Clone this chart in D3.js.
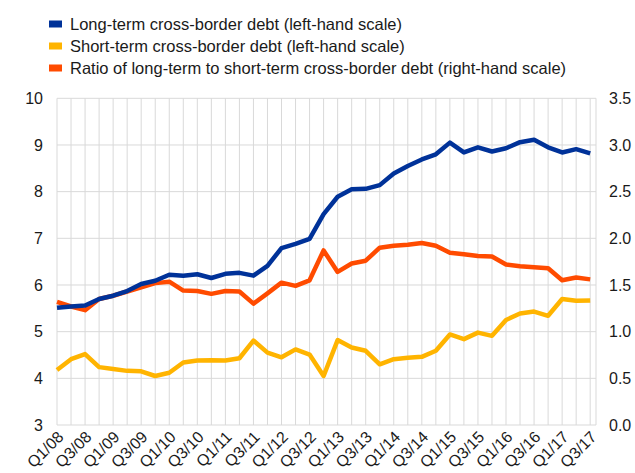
<!DOCTYPE html>
<html>
<head>
<meta charset="utf-8">
<script src="https://cdn.jsdelivr.net/npm/d3@7"></script>
<style>
  body { margin: 0; background: #fff; }
  svg { display: block; font-family: "Liberation Sans", Arial, sans-serif; }
</style>
</head>
<body>
<svg id="chart" width="635" height="473"></svg>
<script>
// quarters Q1/08 .. Q3/17
var quarters = ["Q1/08","Q2/08","Q3/08","Q4/08","Q1/09","Q2/09","Q3/09","Q4/09",
  "Q1/10","Q2/10","Q3/10","Q4/10","Q1/11","Q2/11","Q3/11","Q4/11",
  "Q1/12","Q2/12","Q3/12","Q4/12","Q1/13","Q2/13","Q3/13","Q4/13",
  "Q1/14","Q2/14","Q3/14","Q4/14","Q1/15","Q2/15","Q3/15","Q4/15",
  "Q1/16","Q2/16","Q3/16","Q4/16","Q1/17","Q2/17","Q3/17"];

var longTerm = [5.51,5.54,5.56,5.70,5.77,5.87,6.02,6.09,6.22,6.20,6.23,6.15,6.24,6.26,
  6.20,6.41,6.79,6.88,6.99,7.52,7.89,8.05,8.06,8.14,8.39,8.55,8.69,8.80,
  9.05,8.84,8.95,8.86,8.93,9.06,9.11,8.95,8.84,8.91,8.82];

var shortTerm = [4.18,4.41,4.52,4.24,4.20,4.16,4.15,4.05,4.12,4.34,4.38,4.39,4.38,4.43,
  4.81,4.55,4.45,4.62,4.51,4.05,4.82,4.66,4.59,4.30,4.41,4.44,4.46,4.59,
  4.94,4.84,4.98,4.91,5.25,5.39,5.43,5.34,5.70,5.66,5.67];

var ratio = [1.32,1.27,1.23,1.35,1.385,1.43,1.475,1.52,1.535,1.44,1.435,1.405,1.435,1.43,
  1.30,1.41,1.525,1.49,1.55,1.87,1.64,1.73,1.76,1.90,1.92,1.93,1.95,1.92,
  1.845,1.83,1.81,1.805,1.72,1.70,1.69,1.68,1.55,1.58,1.56];

var leftTicks = [3,4,5,6,7,8,9,10];
var rightTicks = [0,0.5,1,1.5,2,2.5,3,3.5];

var legendLabels = ["Long-term cross-border debt (left-hand scale)",
  "Short-term cross-border debt (left-hand scale)",
  "Ratio of long-term to short-term cross-border debt (right-hand scale)"];
var colors = ["#003299", "#ffb400", "#ff4b00"];

var plot = {left: 57, right: 596, top: 98.3, bottom: 425};
var fontSize = 16;

var svg = d3.select("#chart");

var x = d3.scalePoint().domain(quarters).range([plot.left, 590.2]);
var yL = d3.scaleLinear().domain([3, 10]).range([plot.bottom, plot.top]);
var yR = d3.scaleLinear().domain([0, 3.5]).range([plot.bottom, plot.top]);

// grid
var grid = svg.append("g").attr("stroke", "#d9d9d9").attr("stroke-width", 1);
grid.selectAll("line.h").data(leftTicks).enter().append("line")
  .attr("x1", plot.left).attr("x2", plot.right)
  .attr("y1", function(d) { return yL(d); }).attr("y2", function(d) { return yL(d); });
grid.selectAll("line.v").data(quarters).enter().append("line")
  .attr("x1", function(d) { return x(d); }).attr("x2", function(d) { return x(d); })
  .attr("y1", plot.top).attr("y2", plot.bottom);
grid.append("line").attr("x1", plot.right).attr("x2", plot.right)
  .attr("y1", plot.top).attr("y2", plot.bottom);

// axes
var leftAxis = svg.append("g")
  .attr("transform", "translate(43,0)")
  .call(d3.axisLeft(yL).tickValues(leftTicks).tickSize(0).tickPadding(0)
    .tickFormat(d3.format("d")));
var rightAxis = svg.append("g")
  .attr("transform", "translate(609,0)")
  .call(d3.axisRight(yR).tickValues(rightTicks).tickSize(0).tickPadding(0)
    .tickFormat(d3.format(".1f")));
var xAxis = svg.append("g")
  .attr("transform", "translate(0," + plot.bottom + ")")
  .call(d3.axisBottom(x).tickValues(quarters.filter(function(d, i) { return i % 2 === 0; }))
    .tickSize(0).tickPadding(0));
xAxis.selectAll("text")
  .attr("transform", "translate(3,9) rotate(-45)")
  .attr("dy", "0.35em")
  .style("text-anchor", "end");

[leftAxis, rightAxis, xAxis].forEach(function(a) {
  a.select(".domain").remove();
  a.selectAll("text").attr("font-size", fontSize).attr("fill", "#1a1a1a")
    .attr("font-family", "'Liberation Sans', Arial, sans-serif");
});

// lines
var lineL = d3.line().x(function(d, i) { return x(quarters[i]); }).y(function(d) { return yL(d); });
var lineR = d3.line().x(function(d, i) { return x(quarters[i]); }).y(function(d) { return yR(d); });

svg.append("path").datum(shortTerm).attr("fill", "none").attr("stroke", colors[1])
  .attr("stroke-width", 4.5).attr("stroke-linejoin", "round").attr("d", lineL);
svg.append("path").datum(ratio).attr("fill", "none").attr("stroke", colors[2])
  .attr("stroke-width", 4.5).attr("stroke-linejoin", "round").attr("d", lineR);
svg.append("path").datum(longTerm).attr("fill", "none").attr("stroke", colors[0])
  .attr("stroke-width", 4.5).attr("stroke-linejoin", "round").attr("d", lineL);

// legend
var legend = svg.append("g");
legendLabels.forEach(function(t, i) {
  var yy = 24 + i * 22;
  legend.append("rect").attr("x", 49).attr("y", yy - 3.5).attr("width", 13).attr("height", 7)
    .attr("fill", colors[i]);
  legend.append("text").attr("x", 70).attr("y", yy).attr("dy", "0.35em")
    .attr("font-size", 16.5).attr("fill", "#1a1a1a").text(t);
});
</script>
</body>
</html>
